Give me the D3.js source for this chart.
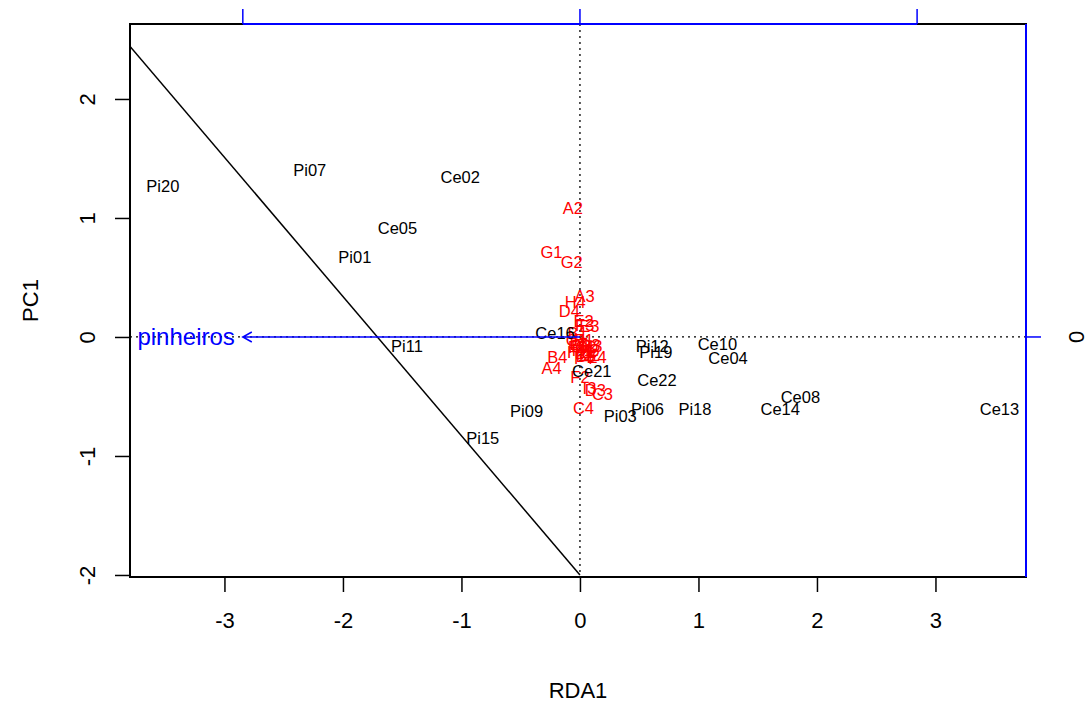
<!DOCTYPE html>
<html>
<head>
<meta charset="utf-8">
<script src="https://cdn.jsdelivr.net/npm/d3@7"></script>
<style>
  body { margin: 0; background: #fff; }
  text { font-family: "Liberation Sans", Arial, sans-serif; }
</style>
</head>
<body>
<script>
const width = 1088;
const height = 704;

// site scores (black)
const siteNames = ["Pi20", "Pi07", "Ce02", "Ce05", "Pi01", "Pi11", "Ce16", "Pi09", "Pi15", "Ce21",
  "Pi03", "Pi06", "Pi18", "Ce22", "Pi12", "Pi19", "Ce10", "Ce04", "Ce14", "Ce08", "Ce13"];
const siteX = [-3.52, -2.28, -1.01, -1.54, -1.90, -1.46, -0.21, -0.45, -0.82, 0.10,
  0.34, 0.57, 0.97, 0.65, 0.61, 0.64, 1.16, 1.25, 1.69, 1.86, 3.54];
const siteY = [1.27, 1.40, 1.34, 0.91, 0.67, -0.08, 0.03, -0.62, -0.85, -0.29,
  -0.67, -0.61, -0.61, -0.36, -0.08, -0.13, -0.06, -0.18, -0.61, -0.51, -0.61];

// species scores (red)
const speciesNames = ["A2", "G1", "G2", "H4", "A3", "D4", "E2", "F3", "E3", "B1", "C1", "D1", "E1",
  "F1", "H1", "I1", "B2", "C2", "D2", "H2", "I2", "B3", "E4", "F4", "G3", "H3", "B4", "A4",
  "F2", "I3", "D3", "C3", "C4"];
const speciesX = [-0.06, -0.24, -0.07, -0.04, 0.04, -0.09, 0.03, 0.04, 0.08, -0.02, -0.03, 0.00, 0.03,
  -0.02, 0.02, 0.07, 0.01, 0.05, 0.08, -0.02, 0.10, 0.05, 0.14, 0.03, 0.08, 0.10, -0.19, -0.24,
  0.00, 0.08, 0.13, 0.19, 0.03];
const speciesY = [1.08, 0.71, 0.63, 0.29, 0.34, 0.22, 0.13, 0.10, 0.09, 0.03, -0.03, -0.06, -0.03,
  -0.09, -0.11, -0.13, -0.08, -0.09, -0.15, -0.13, -0.11, -0.16, -0.17, -0.18, -0.07, -0.08, -0.17, -0.26,
  -0.34, -0.43, -0.45, -0.48, -0.60];

// biplot arrow (in biplot units)
const arrowName = "pinheiros";
const arrowX = -1.0;
const arrowY = 0;
const biplotMult = 2.845;
const bipTicksTop = [-1, 0, 1];
const bipTicksRight = [0];

// ticks
const xTicks = [-3, -2, -1, 0, 1, 2, 3];
const yTicks = [-2, -1, 0, 1, 2];

// fitted boundary line: y = a + b x
const lineA = -2.0;
const lineB = -1.17;

const margin = { left: 130, right: 62, top: 24, bottom: 127 };
const x = d3.scaleLinear().domain([-3.797, 3.764]).range([margin.left, width - margin.right]);
const y = d3.scaleLinear().domain([-2.017, 2.630]).range([height - margin.bottom, margin.top]);
const xb = d3.scaleLinear().domain([-1, 1]).range([x(-biplotMult), x(biplotMult)]);
const yb = d3.scaleLinear().domain([-1, 1]).range([y(-biplotMult), y(biplotMult)]);

const svg = d3.select("body").append("svg")
  .attr("width", width)
  .attr("height", height);

const x0 = margin.left, x1 = width - margin.right;
const y0 = margin.top, y1 = height - margin.bottom;

svg.append("defs").append("clipPath").attr("id", "clip")
  .append("rect")
  .attr("x", x0).attr("y", y0)
  .attr("width", x1 - x0).attr("height", y1 - y0);

const plot = svg.append("g").attr("clip-path", "url(#clip)");

// dotted zero lines
plot.append("line")
  .attr("x1", x0).attr("x2", x1)
  .attr("y1", y(0)).attr("y2", y(0))
  .attr("stroke", "black").attr("stroke-width", 1.3)
  .attr("stroke-dasharray", "2,4");
plot.append("line")
  .attr("x1", x(0)).attr("x2", x(0))
  .attr("y1", y0).attr("y2", y1)
  .attr("stroke", "black").attr("stroke-width", 1.3)
  .attr("stroke-dasharray", "2,4");

// boundary line
plot.append("line")
  .attr("x1", x(-4)).attr("y1", y(lineA + lineB * -4))
  .attr("x2", x(0)).attr("y2", y(lineA))
  .attr("stroke", "black").attr("stroke-width", 1.5);

// species labels
plot.selectAll("text.sp")
  .data(speciesNames)
  .enter()
  .append("text")
  .attr("class", "sp")
  .attr("x", (d, i) => x(speciesX[i]))
  .attr("y", (d, i) => y(speciesY[i]))
  .attr("dy", "0.35em")
  .attr("text-anchor", "middle")
  .attr("font-size", "16.5px")
  .attr("fill", "red")
  .text(d => d);

// site labels
plot.selectAll("text.site")
  .data(siteNames)
  .enter()
  .append("text")
  .attr("class", "site")
  .attr("x", (d, i) => x(siteX[i]))
  .attr("y", (d, i) => y(siteY[i]))
  .attr("dy", "0.35em")
  .attr("text-anchor", "middle")
  .attr("font-size", "16.5px")
  .attr("fill", "black")
  .text(d => d);

// biplot arrow
const tipX = xb(arrowX), tipY = yb(arrowY);
plot.append("line")
  .attr("x1", x(0)).attr("y1", y(0))
  .attr("x2", tipX).attr("y2", tipY)
  .attr("stroke", "blue").attr("stroke-width", 1.5);
plot.append("path")
  .attr("d", `M${tipX + 9},${tipY - 5}L${tipX},${tipY}L${tipX + 9},${tipY + 5}`)
  .attr("fill", "none")
  .attr("stroke", "blue").attr("stroke-width", 1.5);
plot.append("text")
  .attr("x", tipX - 8)
  .attr("y", tipY)
  .attr("dy", "0.35em")
  .attr("text-anchor", "end")
  .attr("font-size", "24px")
  .attr("fill", "blue")
  .text(arrowName);

// box
svg.append("rect")
  .attr("x", x0).attr("y", y0)
  .attr("width", x1 - x0).attr("height", y1 - y0)
  .attr("fill", "none")
  .attr("stroke", "black").attr("stroke-width", 2);

// bottom axis
const axB = svg.append("g").attr("transform", `translate(0,${y1})`)
  .call(d3.axisBottom(x).tickValues(xTicks).tickSize(15).tickPadding(20).tickFormat(d3.format("d")));
axB.select(".domain").remove();
axB.selectAll("line").attr("stroke-width", 1.5);
axB.selectAll("text").attr("font-size", "22px").attr("font-family", "Liberation Sans, Arial, sans-serif")
  .text(d => d < 0 ? "-" + Math.abs(d) : d);

// left axis
const axL = svg.append("g").attr("transform", `translate(${x0},0)`)
  .call(d3.axisLeft(y).tickValues(yTicks).tickSize(15).tickFormat(d3.format("d")));
axL.select(".domain").remove();
axL.selectAll("line").attr("stroke-width", 1.5);
axL.selectAll("text")
  .attr("font-size", "22px").attr("font-family", "Liberation Sans, Arial, sans-serif")
  .attr("x", null).attr("dy", null)
  .attr("text-anchor", "middle")
  .attr("transform", "translate(-35,0) rotate(-90)")
  .text(d => d < 0 ? "-" + Math.abs(d) : d);

// top axis (biplot scale)
svg.append("line")
  .attr("x1", xb(d3.min(bipTicksTop))).attr("x2", xb(d3.max(bipTicksTop)))
  .attr("y1", y0).attr("y2", y0)
  .attr("stroke", "blue").attr("stroke-width", 2);
svg.selectAll("line.ttick")
  .data(bipTicksTop)
  .enter()
  .append("line")
  .attr("class", "ttick")
  .attr("x1", d => xb(d)).attr("x2", d => xb(d))
  .attr("y1", y0).attr("y2", y0 - 15)
  .attr("stroke", "blue").attr("stroke-width", 1.5);

// right axis (biplot scale)
svg.append("line")
  .attr("x1", x1).attr("x2", x1)
  .attr("y1", y0).attr("y2", y1)
  .attr("stroke", "blue").attr("stroke-width", 2);
svg.selectAll("line.rtick")
  .data(bipTicksRight)
  .enter()
  .append("line")
  .attr("class", "rtick")
  .attr("x1", x1).attr("x2", x1 + 15)
  .attr("y1", d => yb(d)).attr("y2", d => yb(d))
  .attr("stroke", "blue").attr("stroke-width", 1.5);
svg.selectAll("text.rlab")
  .data(bipTicksRight)
  .enter()
  .append("text")
  .attr("class", "rlab")
  .attr("transform", d => `translate(${x1 + 50},${yb(d)}) rotate(-90)`)
  .attr("dy", "0.35em")
  .attr("text-anchor", "middle")
  .attr("font-size", "22px")
  .text(d => d);

// axis titles
svg.append("text")
  .attr("x", (x0 + x1) / 2)
  .attr("y", 690)
  .attr("dy", "0.35em")
  .attr("text-anchor", "middle")
  .attr("font-size", "22px")
  .text("RDA1");
svg.append("text")
  .attr("transform", `translate(30,${(y0 + y1) / 2}) rotate(-90)`)
  .attr("dy", "0.35em")
  .attr("text-anchor", "middle")
  .attr("font-size", "22px")
  .text("PC1");
</script>
</body>
</html>
